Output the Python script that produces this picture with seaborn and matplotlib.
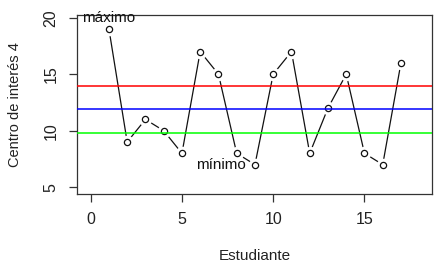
import matplotlib
matplotlib.use("Agg")
import matplotlib.pyplot as plt
import seaborn as sns
import pandas as pd

estudiante = list(range(1, 18))
valores = [19, 9, 11, 10, 8, 17, 15, 8, 7, 15, 17, 8, 12, 15, 8, 7, 16]
linea_sup = 13.95
linea_media = 11.88
linea_inf = 9.82
x_ticks = [0, 5, 10, 15]
y_ticks = [5, 10, 15, 20]

df = pd.DataFrame({"Estudiante": estudiante, "valor": valores})

sns.set_style("ticks")
plt.rcParams['font.family'] = ['Liberation Sans', 'DejaVu Sans']
fig = plt.figure(figsize=(4.48, 2.76), dpi=100)
ax = fig.add_axes([77/448, 1-194/276, (432-77)/448, (194-15)/276])

# line with gaps (type = "b")
sns.lineplot(data=df, x="Estudiante", y="valor", ax=ax, color="#111", lw=0.9, zorder=2)
sns.scatterplot(data=df, x="Estudiante", y="valor", ax=ax, s=95, color="white",
                edgecolor="white", linewidth=0, zorder=3)
sns.scatterplot(data=df, x="Estudiante", y="valor", ax=ax, s=20, facecolor="white",
                edgecolor="#111", linewidth=0.9, zorder=4)

ax.axhline(linea_sup, color="#ff0000", lw=1.1, zorder=5)
ax.axhline(linea_media, color="#0000ff", lw=1.1, zorder=5)
ax.axhline(linea_inf, color="#00ff00", lw=1.1, zorder=5)

ax.text(1, 19.95, "máximo", ha="center", va="center", fontsize=11, color="#111", zorder=6)
ax.text(8.5, 6.95, "mínimo", ha="right", va="center", fontsize=11, color="#111", zorder=6)

ax.set_xlim(-0.75, 18.7)
ax.set_ylim(4.4, 20.24)
ax.set_xticks(x_ticks)
ax.set_yticks(y_ticks)
ax.tick_params(axis="both", labelsize=11.5, length=5.5, width=0.9, colors="#333", labelcolor="#222")
ax.tick_params(axis="x", pad=7.5)
ax.tick_params(axis="y", pad=8)
for lab in ax.get_yticklabels():
    lab.set_rotation(90)
    lab.set_va("center")
for s in ax.spines.values():
    s.set_color("#333")
    s.set_linewidth(0.9)
    s.set_visible(True)

ax.set_xlabel("Estudiante", fontsize=11, color="#222", labelpad=16)
ax.set_ylabel("Centro de interés 4", fontsize=10.5, color="#222", labelpad=15)

fig.savefig("out.png", dpi=100)
